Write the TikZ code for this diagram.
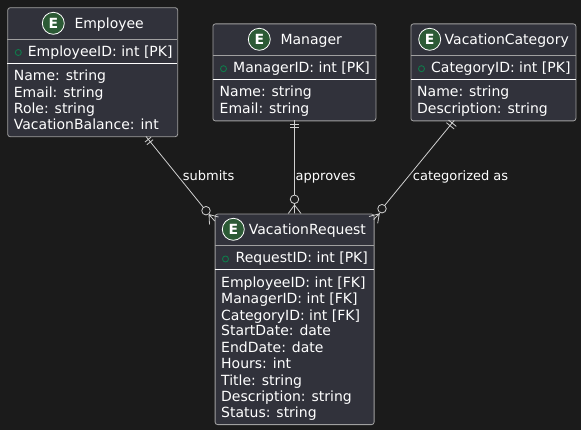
\documentclass[tikz,border=0pt]{standalone}
\usepackage{fontspec}
\setmainfont{DejaVu Sans}
\definecolor{bgc}{HTML}{1B1B1B}
\definecolor{boxc}{HTML}{31323B}
\definecolor{edgec}{HTML}{A0A0A0}
\definecolor{linec}{HTML}{D0D0D0}
\definecolor{badge}{HTML}{2C5A35}
\definecolor{pk}{HTML}{0E7A4A}
\tikzset{
  x=1pt,y=-1pt,
  ent/.style={draw=edgec,fill=boxc,rounded corners=2.5pt,line width=.8pt,inner sep=0pt,anchor=north west},
  txt/.style={text=white,font=\fontsize{14}{16}\selectfont,inner sep=0pt,anchor=base west,yshift=-.5pt},
  ttl/.style={text=white,font=\fontsize{14}{16}\selectfont,inner sep=0pt,anchor=base west},
  badgec/.style={circle,draw=white,fill=badge,line width=.8pt,minimum size=22pt,inner sep=0pt,text=white,font=\bfseries\fontsize{14}{16}\selectfont},
  pkm/.style={circle,draw=pk,line width=.9pt,minimum size=6pt,inner sep=0pt},
  lab/.style={text=white,font=\fontsize{13}{16}\selectfont,inner sep=0pt,anchor=base west,yshift=-1pt},
  conn/.style={draw=linec,line width=.8pt},
  zero/.style={circle,draw=linec,line width=.8pt,minimum size=8.5pt,inner sep=0pt,fill=bgc},
  div/.style={draw=edgec,line width=.8pt},
  divw/.style={draw=white,line width=.8pt},
}
\begin{document}
\begin{tikzpicture}
\path[use as bounding box,fill=bgc] (0,0) rectangle (581,430);
% Employee
\node[ent,minimum width=170pt,minimum height=129pt] (emp) at (7.3,7.3) {};
\node[badgec] (empb) at (53.3,23.3) {E};
\node[ttl] (empt) at (74.3,28.2) {Employee};
\draw[div] (7.3,39.3) -- (177.3,39.3);
\node[pkm] (empk) at (18.3,52.5) {};
\node[txt] (empid) at (27.7,56.5) {EmployeeID: int [PK]};
\draw[divw] (7.3,63.3) -- (177.3,63.3);
\node[txt] at (13.7,80) {Name: string};
\node[txt] at (13.7,97) {Email: string};
\node[txt] at (13.7,113) {Role: string};
\node[txt] at (13.7,129) {VacationBalance: int};
% Manager
\node[ent,minimum width=163pt,minimum height=97pt] (mgr) at (212.5,23.5) {};
\node[badgec] (mgrb) at (259.3,39.3) {E};
\node[ttl] (mgrt) at (280.3,44.2) {Manager};
\draw[div] (212.5,55.3) -- (375.5,55.3);
\node[pkm] (mgk) at (223.5,68.7) {};
\node[txt] (mgid) at (233,72.5) {ManagerID: int [PK]};
\draw[divw] (212.5,79.3) -- (375.5,79.3);
\node[txt] at (219.5,96.5) {Name: string};
\node[txt] at (219.5,113) {Email: string};
% Category
\node[ent,minimum width=165pt,minimum height=97pt] (cat) at (410.5,23.5) {};
\node[badgec] (catb) at (429.7,39.3) {E};
\node[ttl] (catt) at (444.5,44.2) {VacationCategory};
\draw[div] (410.5,55.3) -- (575.5,55.3);
\node[pkm] (cak) at (421.5,68.7) {};
\node[txt] (caid) at (431,72.5) {CategoryID: int [PK]};
\draw[divw] (410.5,79.3) -- (575.5,79.3);
\node[txt] at (417,96.5) {Name: string};
\node[txt] at (417,113) {Description: string};
% Request
\node[ent,minimum width=159pt,minimum height=210.5pt] (req) at (214.7,213.7) {};
\node[badgec] (reqb) at (233.3,229.3) {E};
\node[ttl] (reqt) at (248.7,234.2) {VacationRequest};
\draw[div] (214.7,245.3) -- (373.7,245.3);
\node[pkm] (rqk) at (225.5,259) {};
\node[txt] (rqid) at (235.5,262.5) {RequestID: int [PK]};
\draw[divw] (214.7,269.3) -- (373.7,269.3);
\node[txt] at (221,287) {EmployeeID: int [FK]};
\node[txt] at (221,303) {ManagerID: int [FK]};
\node[txt] at (221,319.5) {CategoryID: int [FK]};
\node[txt] at (221,335.5) {StartDate: date};
\node[txt] at (221,352) {EndDate: date};
\node[txt] at (221,368) {Hours: int};
\node[txt] at (221,384.7) {Title: string};
\node[txt] at (221,401) {Description: string};
\node[txt] at (221,417.2) {Status: string};
% connector end points
\coordinate (e1) at (146,136.5);
\coordinate (m1) at (294.5,120.5);
\coordinate (c1) at (454.2,120.5);
\node[zero] (z1) at (206,210.7) {};
\node[zero] (z2) at (294.5,199.3) {};
\node[zero] (z3) at (382,208.7) {};
\coordinate (a1) at (209,214.5);
\coordinate (f1a) at (209.5,224.5);
\coordinate (f1b) at (218.5,217);
\coordinate (f1c) at (214.7,221);
\coordinate (a2) at (294.5,205);
\coordinate (f2a) at (288.3,213.5);
\coordinate (f2b) at (301,213.5);
\coordinate (f2c) at (294.5,213.5);
\coordinate (a3) at (379.3,213.8);
\coordinate (f3a) at (377.7,223.3);
\coordinate (f3b) at (369,216.5);
\coordinate (f3c) at (373.7,219.5);
% connectors
\draw[conn] (e1) -- (z1);
\draw[conn] (m1) -- (z2);
\draw[conn] (c1) -- (z3);
\draw[conn] (a1) -- (z1) (a1) -- (f1a) (a1) -- (f1b) (a1) -- (f1c);
\draw[conn] (a2) -- (z2) (a2) -- (f2a) (a2) -- (f2b) (a2) -- (f2c);
\draw[conn] (a3) -- (z3) (a3) -- (f3a) (a3) -- (f3b) (a3) -- (f3c);
% one-only bars
\draw[conn] (144.9,142.1) -- (151.1,137.1) (146.9,144.7) -- (153.1,139.7);
\draw[conn] (290.3,124) -- (299,124) (290.3,127.5) -- (299,127.5);
\draw[conn] (448.5,120.1) -- (456.3,126.4) (446.4,122.7) -- (454.2,129);
% labels
\node[lab] (l1) at (182.7,180) {submits};
\node[lab] (l2) at (295.5,180) {approves};
\node[lab] (l3) at (412.7,180) {categorized as};
\end{tikzpicture}
\end{document}
